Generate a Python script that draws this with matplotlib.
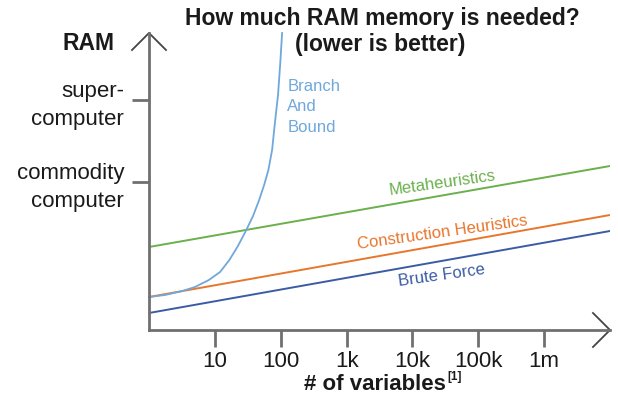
import matplotlib.pyplot as plt

plt.rcParams['font.family'] = ['Liberation Sans', 'DejaVu Sans']

# x range of the axis (number of variables, log scale)
x_range = [1, 1e7]

# straight lines (start and end values on the RAM scale)
brute_force = [17, 99]
construction = [33, 115]
metaheuristics = [83, 164]

# branch and bound curve
bnb_n = [1, 1.75, 3.2, 5.0, 8.1, 12, 16.6, 22.4, 29.5, 38, 47, 56, 65, 74,
         81, 91, 98, 105]
bnb_ram = [33, 35, 39, 43, 50, 58, 70, 84, 99, 114, 130, 145, 160, 180,
           205, 235, 265, 297]

xtick_vals = [10, 100, 1e3, 1e4, 1e5, 1e6]
xtick_labels = ['10', '100', '1k', '10k', '100k', '1m']
ytick_vals = [148, 230]
ytick_labels = ['commodity\ncomputer', 'super-\ncomputer']

axis_col = '#707070'
txt_col = '#1a1a1a'

fig = plt.figure(figsize=(6.18, 4.01), dpi=100)
ax = fig.add_axes([149/618, 71/401, 461/618, 297/401])

ax.plot(x_range, brute_force, color='#3b5ba5', lw=1.4)
ax.plot(x_range, construction, color='#e8762d', lw=1.4)
ax.plot(x_range, metaheuristics, color='#6ab04c', lw=1.4)
ax.plot(bnb_n, bnb_ram, color='#6fa8dc', lw=1.3, clip_on=False)

ax.set_xscale('log')
ax.set_xlim(x_range)
ax.set_ylim(0, 297)

for s in ['top', 'right']:
    ax.spines[s].set_visible(False)
for s in ['left', 'bottom']:
    ax.spines[s].set_color(axis_col)
    ax.spines[s].set_linewidth(2)

ax.set_xticks(xtick_vals)
ax.set_xticklabels(xtick_labels, fontsize=16, color=txt_col)
ax.minorticks_off()
ax.set_yticks(ytick_vals)
ax.set_yticklabels(ytick_labels, fontsize=16, color=txt_col, linespacing=1.4)
ax.tick_params(axis='both', length=12, width=2, color=axis_col, pad=3)
ax.tick_params(axis='y', pad=6)

# arrow heads
dx = 17 / 461
dy = 17 / 297
ax.plot([-dx, 0, dx], [1 - dy, 1, 1 - dy], transform=ax.transAxes,
        color='#444444', lw=1.3, clip_on=False)
ax.plot([1 - dx, 1, 1 - dx], [dy, 0, -dy], transform=ax.transAxes,
        color='#444444', lw=1.3, clip_on=False)

# line labels
ax.text(2.8e4, 147, 'Metaheuristics', color='#6ab04c', fontsize=12,
        rotation=8, ha='center', va='center')
ax.text(2.9e4, 97, 'Construction Heuristics', color='#e8762d', fontsize=12,
        rotation=8, ha='center', va='center')
ax.text(2.8e4, 55, 'Brute Force', color='#3b5ba5', fontsize=12,
        rotation=8, ha='center', va='center')
ax.text(126, 251, 'Branch\nAnd\nBound', color='#6fa8dc', fontsize=12,
        ha='left', va='top', linespacing=1.45)

fig.text(382/618, 1 - 18/401, 'How much RAM memory is needed?', fontsize=16.5,
         fontweight='bold', ha='center', va='center', color=txt_col)
fig.text(380/618, 1 - 45/401, '(lower is better)', fontsize=16.5,
         fontweight='bold', ha='center', va='center', color=txt_col)
fig.text(115/618, 1 - 44/401, 'RAM', fontsize=16.5, fontweight='bold',
         ha='right', va='center', color=txt_col)
fig.text(446/618, 1 - 385/401, '# of variables', fontsize=16,
         fontweight='bold', ha='right', va='center', color=txt_col)
fig.text(447/618, 1 - 377/401, '[1]', fontsize=8.5,
         fontweight='bold', ha='left', va='center', color=txt_col)

fig.savefig('out.png', dpi=100)
